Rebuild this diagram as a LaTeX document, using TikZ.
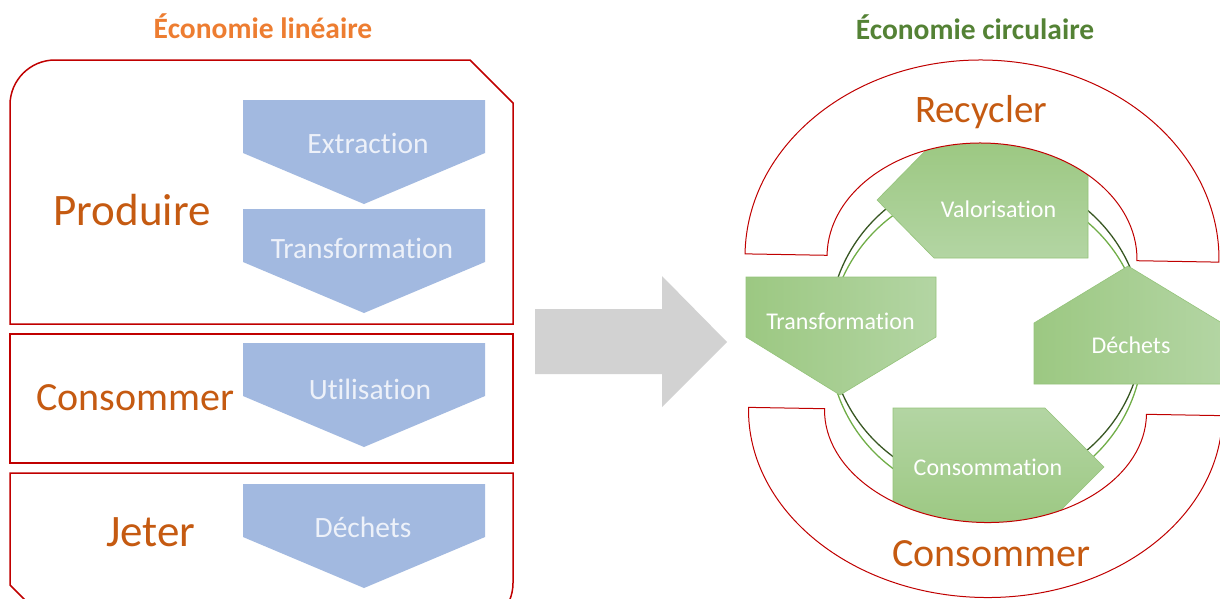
\documentclass[tikz,border=0pt]{standalone}
\usepackage{fontspec}
\setmainfont{Carlito}[Ligatures=NoCommon]
\usepackage{tikz}
\usetikzlibrary{positioning}
\definecolor{lineRed}{HTML}{C00000}
\definecolor{titleOrange}{HTML}{ED7D31}
\definecolor{titleGreen}{HTML}{548235}
\definecolor{phaseOrange}{HTML}{C55A11}
\definecolor{chevBlue}{HTML}{A2B9E0}
\definecolor{chevText}{HTML}{EDF1F9}
\definecolor{arrowGray}{HTML}{D2D2D2}
\definecolor{greenDark}{HTML}{9CC882}
\definecolor{greenLight}{HTML}{B3D5A3}
\definecolor{stepEdge}{HTML}{94C37A}
\definecolor{ringDark}{HTML}{385723}
\definecolor{ringLight}{HTML}{70AD47}

\begin{document}
\begin{tikzpicture}[x=1pt, y=-1pt]
			\tikzstyle{stage box}=[draw=lineRed, line width=1.5pt, fill=white]
			\tikzstyle{chevron}=[fill=chevBlue]
			\tikzstyle{chevron text}=[text=chevText, font=\fontsize{29.5}{34}\selectfont, anchor=base, inner sep=0pt]
			\tikzstyle{title}=[font=\bfseries\fontsize{29.5}{34}\selectfont, anchor=base, inner sep=0pt]
			\tikzstyle{phase}=[text=phaseOrange, anchor=base, inner sep=0pt]
			\tikzstyle{cycle step}=[draw=stepEdge, line width=0.6pt]
			\tikzstyle{step text}=[text=white, font=\fontsize{24}{28}\selectfont, anchor=base, inner sep=0pt]
			\tikzstyle{ring}=[draw=lineRed, line width=1pt, fill=white]

			\clip (0,0) rectangle (1220,598);

			% Titles of both halves
			\node[title, text=titleOrange] (lin-title) at (263,38) {Économie linéaire};
			\node[title, text=titleGreen] (circ-title) at (975,39) {Économie circulaire};

			% Draw the three boxes of the linear economy
			\draw[stage box] (10,324) -- (10,105) arc[start angle=180, end angle=270, radius=45]
				-- (470,60) -- (513,103) -- (513,324) -- cycle;
			\draw[stage box] (10,334) rectangle (513,463);
			\draw[stage box] (10,473) -- (513,473) -- (513,583) arc[start angle=0, end angle=90, radius=45]
				-- (53,628) -- (10,585) -- cycle;

			% Draw the chevrons, \ytop is the top edge and \base the baseline of the text
			\foreach \id/\name/\ytop/\tx/\base in {ext/Extraction/100/368/153, tra/Transformation/209/362/258,
					uti/Utilisation/343/370/399, dec/Déchets/484/363/537} {
				\fill[chevron] (243,\ytop) -- (485,\ytop) -- (485,{\ytop+53}) -- (364,{\ytop+104})
					-- (243,{\ytop+53}) -- cycle;
				\node[chevron text] (C-\id) at (\tx,\base) {\name};
			}

			% Annotate the stages
			\node[phase, font=\fontsize{45}{50}\selectfont] (produire) at (132,225) {Produire};
			\node[phase, font=\fontsize{40}{46}\selectfont] (consommer-l) at (135.5,410) {Consommer};
			\node[phase, font=\fontsize{45}{50}\selectfont] (jeter) at (151,546) {Jeter};

			% Big gray arrow between both halves
			\fill[arrowGray] (535,309) -- (662,309) -- (662,276) -- (727,342) -- (662,407)
				-- (662,374) -- (535,374) -- cycle;

			% The cycle behind the steps
			\draw[ringLight, line width=1.3pt] (986,342) circle[radius=157];
			\draw[ringDark, line width=1.3pt] (986,330) circle[radius=157];

			% Draw the steps of the circular economy
			\draw[cycle step, top color=greenDark, bottom color=greenLight]
				(877,200) -- (934,142) -- (1088,142) -- (1088,258) -- (934,258) -- cycle;
			\draw[cycle step, left color=greenDark, right color=greenLight]
				(746,277) -- (936,277) -- (936,337) -- (840,395) -- (746,337) -- cycle;
			\draw[cycle step, left color=greenDark, right color=greenLight]
				(1034,384) -- (1034,323) -- (1128,266) -- (1222,323) -- (1222,384) -- cycle;
			\draw[cycle step, top color=greenLight, bottom color=greenDark]
				(893,408) -- (1045,408) -- (1104,467) -- (1045,526) -- (893,526) -- cycle;

			% Draw the two half rings
			\begin{scope}[rotate around={-1:(982,258)}]
				\draw[ring] (745,258) arc[start angle=180, end angle=360, x radius=237, y radius=198]
					-- (1137,258) arc[start angle=0, end angle=-180, x radius=155, y radius=115] -- cycle;
			\end{scope}
			\begin{scope}[rotate around={-1:(985.5,411.5)}]
				\draw[ring] (748.5,411.5) arc[start angle=180, end angle=0, x radius=237, y radius=186]
					-- (1146.5,411.5) arc[start angle=0, end angle=180, x radius=161, y radius=111] -- cycle;
			\end{scope}

			% Texts of the steps and rings
			\node[step text] (S-val) at (998.5,217) {Valorisation};
			\node[step text] (S-tra) at (840.5,329) {Transformation};
			\node[step text] (S-dec) at (1131,353) {Déchets};
			\node[step text] (S-con) at (988,475) {Consommation};
			\node[phase, font=\fontsize{39}{45}\selectfont] (recycler) at (981,122) {Recycler};
			\node[phase, font=\fontsize{40}{46}\selectfont] (consommer-r) at (991,566) {Consommer};
\end{tikzpicture}
\end{document}
